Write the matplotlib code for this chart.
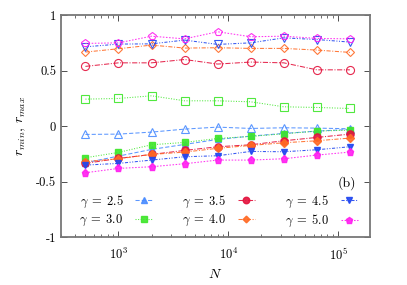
import numpy as np
import matplotlib
matplotlib.use('Agg')
import matplotlib.pyplot as plt
from matplotlib.ticker import FixedLocator, FixedFormatter, LogLocator, NullFormatter

plt.rcParams['mathtext.fontset'] = 'cm'
plt.rcParams['font.family'] = ['cmr10', 'DejaVu Serif']
plt.rcParams['axes.unicode_minus'] = False

N = [500, 1000, 2000, 4000, 8000, 16000, 32000, 64000, 128000]
gammas = ['2.5', '3.0', '3.5', '4.0', '4.5', '5.0']

r_min = {
    '2.5': [-0.33, -0.27, -0.21, -0.165, -0.12, -0.09, -0.066, -0.045, -0.03],
    '3.0': [-0.285, -0.237, -0.168, -0.147, -0.111, -0.093, -0.069, -0.045, -0.036],
    '3.5': [-0.336, -0.291, -0.255, -0.219, -0.186, -0.168, -0.132, -0.102, -0.072],
    '4.0': [-0.32, -0.294, -0.255, -0.234, -0.2, -0.174, -0.15, -0.132, -0.108],
    '4.5': [-0.351, -0.336, -0.306, -0.276, -0.267, -0.228, -0.231, -0.213, -0.186],
    '5.0': [-0.42, -0.381, -0.366, -0.339, -0.306, -0.306, -0.294, -0.261, -0.234],
}
r_max = {
    '2.5': [-0.075, -0.072, -0.054, -0.027, -0.009, -0.021, -0.015, -0.018, -0.024],
    '3.0': [0.243, 0.249, 0.273, 0.228, 0.228, 0.219, 0.174, 0.168, 0.159],
    '3.5': [0.538, 0.57, 0.57, 0.6, 0.559, 0.577, 0.57, 0.507, 0.507],
    '4.0': [0.667, 0.697, 0.73, 0.703, 0.706, 0.7, 0.7, 0.685, 0.664],
    '4.5': [0.714, 0.739, 0.741, 0.775, 0.736, 0.75, 0.795, 0.78, 0.757],
    '5.0': [0.745, 0.75, 0.81, 0.786, 0.85, 0.805, 0.81, 0.79, 0.786],
}

colors = {'2.5': '#4a8cff', '3.0': '#3ee62a', '3.5': '#e3123c',
          '4.0': '#ff6a24', '4.5': '#2046f0', '5.0': '#ff1ef0'}
markers = {'2.5': '^', '3.0': 's', '3.5': 'o', '4.0': 'D', '4.5': 'v', '5.0': 'p'}
sizes = {'2.5': 5, '3.0': 5, '3.5': 5.2, '4.0': 3.8, '4.5': 5, '5.0': 5.2}
dashes = {'2.5': (4, 2), '3.0': (1, 1.5), '3.5': (5, 1.5, 1, 1.5),
          '4.0': (4, 1.5, 1, 1.5), '4.5': (3, 1.5, 1, 1.5, 1, 1.5), '5.0': (1.5, 1.5)}

fig = plt.figure(figsize=(4.07, 2.85), dpi=100)
ax = fig.add_axes([0.150, 0.168, 0.759, 0.779])

for g in gammas:
    c = colors[g]
    ax.plot(N, r_min[g], color=c, marker=markers[g], ms=sizes[g], lw=0.75,
            dashes=dashes[g], mec=c, mfc=c, alpha=0.9,
            label=r'$\gamma\;=\;%s$' % g)
    ax.plot(N, r_max[g], color=c, marker=markers[g], ms=sizes[g] + 0.6, lw=0.75,
            dashes=dashes[g], mec=c, mfc='none', mew=0.8, alpha=0.9)

ax.set_xscale('log')
ax.set_xlim(300, 195000)
ax.set_ylim(-1, 1)
ax.yaxis.set_major_locator(FixedLocator([-1, -0.5, 0, 0.5, 1]))
ax.yaxis.set_major_formatter(FixedFormatter(['-1', '-0.5', '0', '0.5', '1']))
ax.xaxis.set_major_locator(FixedLocator([1e3, 1e4, 1e5]))
ax.xaxis.set_major_formatter(FixedFormatter([r'$10^3$', r'$10^4$', r'$10^5$']))
ax.xaxis.set_minor_locator(LogLocator(base=10, subs=np.arange(2, 10)))
ax.xaxis.set_minor_formatter(NullFormatter())

ax.tick_params(which='both', direction='in', top=True, right=True, labelsize=9,
               color='#333333')
ax.tick_params(which='major', length=4, width=0.6)
ax.tick_params(axis='x', which='major', pad=7)
ax.tick_params(which='minor', length=2, width=0.5)
for s in ax.spines.values():
    s.set_color('#777777')
    s.set_linewidth(1.3)

ax.set_xlabel(r'$N$', fontsize=10, labelpad=4)
ax.set_ylabel(r'$r_{min},\, r_{max}$', fontsize=10, labelpad=6)
ax.text(0.925, 0.243, '(b)', transform=ax.transAxes, fontsize=10,
        ha='center', va='center')

ax.legend(ncol=3, loc='lower left', bbox_to_anchor=(0.023, -0.015), frameon=False,
          markerfirst=False, fontsize=9, handlelength=1.4, columnspacing=2.4,
          handletextpad=0.9, labelspacing=0.25, markerscale=0.9)

fig.savefig('out.png', dpi=100)
